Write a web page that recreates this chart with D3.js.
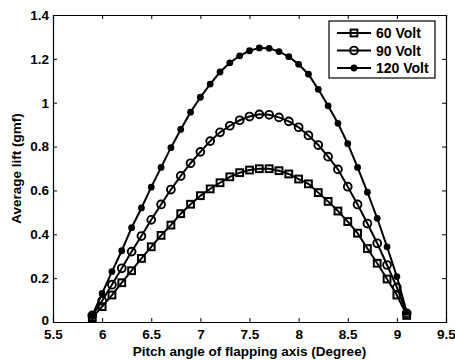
<!DOCTYPE html>
<html>
<head>
<meta charset="utf-8">
<script src="https://cdn.jsdelivr.net/npm/d3@7"></script>
<style>
  body { margin: 0; background: #fff; }
  svg { display: block; }
  text { font-family: "Liberation Sans", Arial, sans-serif; font-weight: bold; fill: #000; }
</style>
</head>
<body>
<svg id="chart" width="455" height="360"></svg>
<script>
'use strict'

// pitch angle (degree)
const pitchAngles = [5.9, 6.0, 6.1, 6.2, 6.3, 6.4, 6.5, 6.6, 6.7, 6.8, 6.9, 7.0, 7.1, 7.2, 7.3, 7.4, 7.5,
  7.6, 7.7, 7.8, 7.9, 8.0, 8.1, 8.2, 8.3, 8.4, 8.5, 8.6, 8.7, 8.8, 8.9, 9.0, 9.1]

// average lift (gmf)
const lift60 = [0.02, 0.07, 0.123, 0.179, 0.234, 0.29, 0.343, 0.395, 0.442, 0.494, 0.537, 0.576, 0.607, 0.635,
  0.662, 0.681, 0.693, 0.699, 0.699, 0.69, 0.675, 0.652, 0.63, 0.59, 0.55, 0.506, 0.458, 0.405, 0.335, 0.268,
  0.196, 0.123, 0.03]
const lift90 = [0.03, 0.097, 0.17, 0.245, 0.321, 0.392, 0.466, 0.536, 0.604, 0.666, 0.724, 0.776, 0.825, 0.865,
  0.895, 0.92, 0.937, 0.947, 0.945, 0.933, 0.915, 0.888, 0.851, 0.807, 0.754, 0.696, 0.617, 0.536, 0.449, 0.359,
  0.26, 0.158, 0.04]
const lift120 = [0.03, 0.13, 0.23, 0.325, 0.43, 0.52, 0.615, 0.705, 0.795, 0.878, 0.957, 1.025, 1.085, 1.14,
  1.182, 1.214, 1.237, 1.25, 1.248, 1.233, 1.21, 1.175, 1.13, 1.061, 0.986, 0.906, 0.813, 0.705, 0.592, 0.473,
  0.343, 0.207, 0.045]

const seriesNames = ['60 Volt', '90 Volt', '120 Volt']
const seriesMarkers = ['square', 'circle', 'dot']
const seriesValues = [lift60, lift90, lift120]

const xTicks = [5.5, 6, 6.5, 7, 7.5, 8, 8.5, 9, 9.5]
const yTicks = [0, 0.2, 0.4, 0.6, 0.8, 1, 1.2, 1.4]

const margin = { left: 53, right: 9, top: 15, bottom: 38 }
const width = 455
const height = 360

const svg = d3.select('#chart')

const x = d3.scaleLinear().domain([5.5, 9.5]).range([margin.left, width - margin.right])
const y = d3.scaleLinear().domain([0, 1.4]).range([height - margin.bottom, margin.top])

const tickLen = 4
const lineWidth = 2
const fontSize = '13.5px'

// axes: ticks point inward, mirrored on top and right
const bottomAxis = svg.append('g')
  .attr('transform', `translate(0,${y(0)})`)
  .call(d3.axisBottom(x).tickValues(xTicks).tickSize(-tickLen).tickPadding(7).tickFormat(d3.format('')))
const topAxis = svg.append('g')
  .attr('transform', `translate(0,${y(1.4)})`)
  .call(d3.axisTop(x).tickValues(xTicks).tickSize(-tickLen).tickFormat(''))
const leftAxis = svg.append('g')
  .attr('transform', `translate(${x(5.5)},0)`)
  .call(d3.axisLeft(y).tickValues(yTicks).tickSize(-tickLen).tickPadding(4).tickFormat(d3.format('')))
const rightAxis = svg.append('g')
  .attr('transform', `translate(${x(9.5)},0)`)
  .call(d3.axisRight(y).tickValues(yTicks).tickSize(-tickLen).tickFormat(''))

for (const g of [bottomAxis, topAxis, leftAxis, rightAxis]) {
  g.select('.domain').attr('stroke', '#000').attr('stroke-width', 1.2)
  g.selectAll('.tick line').attr('stroke', '#000').attr('stroke-width', 1)
  g.selectAll('.tick text').style('font-size', fontSize).style('font-weight', 'bold')
    .style('font-family', '"Liberation Sans", Arial, sans-serif').attr('fill', '#000')
}
// the "0" label sits a little above the axis line, as in the source figure
leftAxis.selectAll('.tick text').filter(d => d === 0).attr('dy', '0.2em')

// axis titles
svg.append('text')
  .attr('x', (x(5.5) + x(9.5)) / 2)
  .attr('y', 356)
  .attr('text-anchor', 'middle')
  .style('font-size', fontSize)
  .text('Pitch angle of flapping axis (Degree)')

svg.append('text')
  .attr('transform', `translate(21,${(y(0) + y(1.4)) / 2}) rotate(-90)`)
  .attr('text-anchor', 'middle')
  .style('font-size', fontSize)
  .text('Average lift (gmf)')

// draws one marker of the given kind at (cx, cy)
function drawMarker (g, kind, cx, cy) {
  if (kind === 'square') {
    g.append('rect')
      .attr('x', cx - 3.4).attr('y', cy - 3.4)
      .attr('width', 6.8).attr('height', 6.8)
      .attr('fill', 'none').attr('stroke', '#000').attr('stroke-width', 2)
  } else if (kind === 'circle') {
    g.append('circle')
      .attr('cx', cx).attr('cy', cy).attr('r', 3.9)
      .attr('fill', 'none').attr('stroke', '#000').attr('stroke-width', 1.9)
  } else {
    g.append('circle')
      .attr('cx', cx).attr('cy', cy).attr('r', 3.4)
      .attr('fill', '#000')
  }
}

const line = d3.line()
  .x((d, i) => x(pitchAngles[i]))
  .y(d => y(d))

const plot = svg.append('g').classed('series', true)

seriesValues.forEach((values, s) => {
  const g = plot.append('g')
  g.append('path')
    .attr('d', line(values))
    .attr('fill', 'none')
    .attr('stroke', '#000')
    .attr('stroke-width', lineWidth)
  values.forEach((v, i) => drawMarker(g, seriesMarkers[s], x(pitchAngles[i]), y(v)))
})

// legend
const legend = svg.append('g').attr('transform', 'translate(329,21)')
legend.append('rect')
  .attr('width', 106).attr('height', 57)
  .attr('fill', '#fff').attr('stroke', '#000').attr('stroke-width', 1.2)

seriesNames.forEach((name, s) => {
  const ry = 12 + s * 17.5
  legend.append('line')
    .attr('x1', 8).attr('x2', 42).attr('y1', ry).attr('y2', ry)
    .attr('stroke', '#000').attr('stroke-width', lineWidth)
  drawMarker(legend, seriesMarkers[s], 25, ry)
  legend.append('text')
    .attr('x', 47).attr('y', ry + 5)
    .style('font-size', '14px')
    .text(name)
})
</script>
</body>
</html>
